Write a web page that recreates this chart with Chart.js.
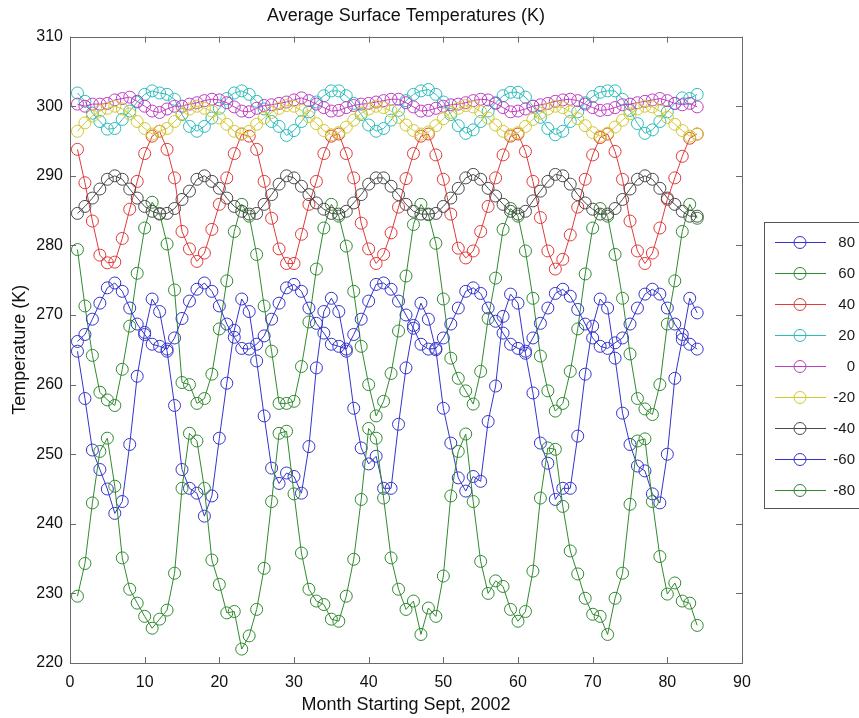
<!DOCTYPE html>
<html>
<head>
<meta charset="utf-8">
<title>Average Surface Temperatures</title>
<script src="https://cdn.jsdelivr.net/npm/chart.js@4.4.1/dist/chart.umd.min.js"></script>
<style>
  html, body { margin: 0; padding: 0; background: #fff; }
  #wrap { width: 859px; height: 718px; }
</style>
</head>
<body>
<div id="wrap"><canvas id="temps" width="859" height="718"></canvas></div>
<script>
// Monthly mean surface temperature (K) by latitude band, Sept 2002 onwards
const FONT = "'Liberation Sans', Arial, Helvetica, sans-serif";

const months = [
   1,  2,  3,  4,  5,  6,  7,  8,  9, 10, 11, 12,
  13, 14, 15, 16, 17, 18, 19, 20, 21, 22, 23, 24,
  25, 26, 27, 28, 29, 30, 31, 32, 33, 34, 35, 36,
  37, 38, 39, 40, 41, 42, 43, 44, 45, 46, 47, 48,
  49, 50, 51, 52, 53, 54, 55, 56, 57, 58, 59, 60,
  61, 62, 63, 64, 65, 66, 67, 68, 69, 70, 71, 72,
  73, 74, 75, 76, 77, 78, 79, 80, 81, 82, 83, 84
];

const latLabels = ["80", "60", "40", "20", "0", "-20", "-40", "-60", "-80"];
const latColors = ["#3434cc", "#2f8a2f", "#e03a3a", "#2cbcbc", "#c03cc0",
                   "#d2c832", "#4a4a4a", "#3434cc", "#2f8a2f"];

const lat80 = [
  264.8, 258.0, 250.6, 247.8, 245.0, 241.5, 243.2, 251.4, 261.2, 267.5, 272.3, 270.5,
  264.8, 257.0, 247.8, 245.1, 244.4, 241.1, 244.0, 252.3, 260.2, 267.8, 272.3, 270.5,
  263.4, 255.5, 248.0, 245.8, 247.3, 246.8, 244.4, 251.1, 262.4, 270.5, 272.4, 270.5,
  264.8, 256.6, 250.9, 248.6, 249.7, 245.1, 245.1, 254.3, 262.4, 268.5, 271.7, 269.4,
  265.0, 256.6, 251.6, 246.6, 244.7, 246.8, 246.1, 254.7, 259.8, 269.8, 273.0, 271.7,
  264.5, 258.8, 251.6, 248.7, 243.5, 245.1, 245.1, 252.6, 261.5, 268.4, 272.3, 271.0,
  263.8, 255.9, 251.4, 248.3, 247.6, 244.3, 243.0, 250.0, 260.9, 266.5, 272.4, 270.3
];
const lat60 = [
  279.4, 271.3, 264.2, 258.9, 257.8, 257.0, 262.2, 268.4, 276.0, 282.5, 286.2, 284.6,
  280.2, 273.6, 260.3, 260.0, 257.3, 258.0, 261.5, 268.0, 274.9, 282.0, 285.9, 284.2,
  278.7, 271.3, 264.8, 257.3, 257.3, 257.6, 262.6, 269.0, 276.6, 282.5, 285.9, 284.2,
  279.9, 273.4, 265.5, 260.0, 255.5, 257.6, 261.6, 267.7, 275.6, 283.0, 285.9, 284.4,
  280.3, 272.3, 263.8, 260.9, 259.1, 257.2, 261.9, 269.5, 275.3, 282.3, 285.3, 284.2,
  279.2, 272.4, 264.1, 259.1, 256.2, 257.3, 261.9, 268.0, 275.9, 282.5, 285.3, 284.2,
  278.7, 272.4, 264.4, 258.0, 256.5, 255.7, 260.0, 268.7, 274.9, 282.0, 285.9, 283.9
];
const lat40 = [
  293.8, 289.0, 283.5, 278.6, 277.5, 277.6, 281.0, 285.2, 289.2, 293.2, 295.7, 296.4,
  293.8, 289.7, 282.0, 279.5, 277.7, 278.9, 282.3, 285.9, 289.7, 293.2, 296.0, 295.7,
  293.8, 289.2, 283.9, 279.5, 277.4, 277.4, 281.6, 285.9, 289.2, 293.2, 295.7, 296.0,
  293.2, 289.7, 283.2, 279.5, 277.4, 278.7, 281.8, 285.5, 289.6, 293.2, 295.7, 296.0,
  293.0, 289.5, 284.5, 279.6, 278.2, 279.2, 282.0, 285.6, 289.7, 293.0, 295.7, 296.0,
  293.5, 289.2, 284.0, 279.2, 276.6, 278.0, 281.5, 285.5, 289.5, 293.0, 295.5, 296.0,
  293.5, 289.5, 283.5, 279.2, 277.4, 278.9, 282.5, 286.6, 289.7, 292.8, 295.4, 296.0
];
const lat20 = [
  301.9, 300.7, 299.0, 297.8, 296.7, 296.8, 298.1, 299.3, 300.6, 301.7, 302.2, 301.9,
  301.7, 301.0, 298.8, 297.1, 296.4, 297.1, 298.3, 299.7, 301.1, 301.9, 302.2, 301.7,
  300.7, 299.6, 297.8, 297.1, 295.8, 296.5, 297.8, 299.2, 300.6, 301.5, 302.2, 302.2,
  301.5, 300.4, 298.8, 297.3, 296.4, 296.8, 298.0, 299.4, 300.8, 301.7, 302.2, 302.4,
  301.7, 300.6, 298.8, 297.2, 296.1, 296.6, 297.8, 299.3, 300.5, 301.5, 302.0, 302.0,
  301.3, 300.0, 298.4, 296.8, 295.9, 296.4, 297.8, 299.2, 300.5, 301.4, 302.0, 302.2,
  302.2, 301.0, 299.4, 297.5, 296.1, 296.6, 297.8, 299.2, 300.4, 301.2, 301.1, 301.7
];
const lat0 = [
  300.3, 300.0, 300.3, 300.3, 300.4, 300.9, 301.1, 301.3, 300.7, 300.0, 299.3, 299.1,
  299.6, 300.0, 300.0, 300.3, 300.5, 300.8, 301.0, 300.9, 300.5, 299.9, 299.3, 299.2,
  299.7, 300.1, 300.2, 300.4, 300.6, 300.9, 301.2, 300.8, 300.3, 299.8, 299.3, 299.4,
  299.8, 300.1, 300.3, 300.4, 300.6, 300.8, 301.0, 301.0, 300.5, 299.9, 299.3, 299.4,
  299.7, 300.0, 300.2, 300.3, 300.5, 300.8, 301.0, 300.9, 300.4, 299.8, 299.2, 299.3,
  299.6, 300.0, 300.2, 300.4, 300.7, 300.9, 301.0, 300.8, 300.3, 299.8, 299.4, 299.5,
  299.8, 300.2, 300.3, 300.5, 300.7, 300.9, 301.1, 300.8, 300.4, 300.2, 300.4, 299.9
];
const latS20 = [
  296.4, 297.6, 298.6, 299.3, 299.7, 300.0, 299.6, 298.9, 297.8, 296.8, 296.0, 296.4,
  296.8, 297.8, 298.9, 299.6, 300.0, 299.7, 299.3, 298.3, 297.4, 296.4, 296.0, 296.4,
  297.4, 298.3, 299.1, 299.7, 300.1, 300.0, 299.4, 298.5, 297.5, 296.5, 295.9, 296.2,
  297.0, 298.0, 299.0, 299.6, 300.0, 299.8, 299.3, 298.4, 297.3, 296.5, 296.0, 296.3,
  297.2, 298.2, 299.1, 299.7, 300.1, 299.9, 299.2, 298.3, 297.3, 296.4, 295.9, 296.2,
  297.1, 298.1, 299.0, 299.6, 300.0, 299.8, 299.2, 298.2, 297.2, 296.2, 295.7, 296.1,
  297.0, 298.0, 298.9, 299.6, 300.0, 299.9, 299.3, 298.4, 297.4, 296.5, 295.7, 296.0
];
const latS40 = [
  284.6, 285.6, 286.8, 288.1, 289.5, 290.0, 289.5, 288.1, 286.8, 285.6, 284.9, 284.5,
  284.6, 285.3, 286.6, 287.8, 289.5, 290.0, 289.2, 288.2, 286.8, 285.6, 284.9, 284.5,
  284.6, 285.9, 287.3, 288.8, 290.0, 289.7, 288.5, 287.3, 286.1, 285.2, 284.6, 284.5,
  284.9, 286.1, 287.3, 288.8, 289.7, 289.7, 288.5, 287.3, 285.9, 284.9, 284.5, 284.5,
  284.6, 285.6, 286.8, 288.2, 289.7, 290.2, 289.5, 288.2, 287.1, 285.9, 284.9, 284.5,
  284.9, 286.4, 287.8, 289.2, 290.2, 290.0, 288.8, 287.3, 286.1, 285.2, 284.5, 284.5,
  285.3, 286.6, 288.1, 289.5, 290.0, 289.5, 288.2, 286.8, 285.9, 284.9, 284.2, 284.2
];
const latS60 = [
  266.2, 267.2, 269.4, 271.7, 273.9, 274.6, 273.4, 271.0, 268.7, 267.2, 265.8, 265.5,
  265.1, 266.7, 269.5, 272.0, 273.7, 274.6, 273.4, 271.3, 268.7, 266.8, 265.2, 265.1,
  265.8, 267.0, 269.4, 271.7, 273.9, 274.4, 273.4, 271.0, 268.8, 267.4, 265.8, 265.5,
  265.1, 267.2, 269.4, 272.0, 274.4, 274.6, 273.7, 272.0, 270.0, 268.1, 265.8, 265.1,
  265.2, 266.7, 268.7, 271.0, 273.4, 273.9, 273.1, 271.0, 269.1, 267.4, 265.8, 265.2,
  264.8, 266.7, 268.8, 271.0, 273.1, 273.7, 272.7, 270.8, 268.7, 266.7, 265.5, 265.2,
  266.0, 266.7, 268.7, 271.0, 273.0, 273.7, 273.0, 271.0, 268.7, 267.2, 265.8, 265.1
];
const latS80 = [
  229.6, 234.3, 243.0, 250.4, 252.3, 245.4, 235.1, 230.6, 228.6, 226.7, 225.0, 226.3,
  227.6, 232.9, 245.1, 253.0, 251.9, 245.1, 234.8, 231.3, 227.2, 227.4, 222.0, 223.9,
  227.7, 233.6, 243.2, 253.0, 253.3, 244.3, 235.8, 230.6, 228.9, 228.4, 226.3, 226.0,
  229.6, 234.9, 243.5, 253.7, 252.3, 243.7, 235.1, 230.6, 227.7, 228.9, 224.1, 227.9,
  226.7, 232.5, 244.0, 250.4, 252.9, 243.2, 234.6, 230.0, 231.8, 231.0, 227.7, 226.0,
  227.4, 233.2, 243.7, 250.9, 250.7, 242.5, 236.1, 232.8, 229.3, 227.0, 226.7, 224.1,
  229.3, 232.9, 242.8, 251.9, 252.2, 243.2, 235.3, 229.9, 231.5, 228.9, 228.6, 225.4
];

const xTicks = [0, 10, 20, 30, 40, 50, 60, 70, 80, 90];
const yTicks = [220, 230, 240, 250, 260, 270, 280, 290, 300, 310];

const seriesValues = [lat80, lat60, lat40, lat20, lat0, latS20, latS40, latS60, latS80];

/* ---------- boxed axes with inward ticks on all four sides ---------- */
const boxTicksPlugin = {
  id: "boxTicks",
  afterDatasetsDraw(chart) {
    const { ctx, chartArea: a, scales: { x, y } } = chart;
    const len = 6;
    ctx.save();
    ctx.strokeStyle = "#6a6a6a";
    ctx.lineWidth = 1;
    ctx.strokeRect(Math.round(a.left) + 0.5, Math.round(a.top) + 0.5,
                   Math.round(a.right - a.left), Math.round(a.bottom - a.top));
    ctx.beginPath();
    xTicks.forEach(v => {
      const px = Math.round(x.getPixelForValue(v)) + 0.5;
      ctx.moveTo(px, a.bottom); ctx.lineTo(px, a.bottom - len);
      ctx.moveTo(px, a.top);    ctx.lineTo(px, a.top + len);
    });
    yTicks.forEach(v => {
      const py = Math.round(y.getPixelForValue(v)) + 0.5;
      ctx.moveTo(a.left, py);  ctx.lineTo(a.left + len, py);
      ctx.moveTo(a.right, py); ctx.lineTo(a.right - len, py);
    });
    ctx.stroke();
    ctx.restore();
  }
};

/* ---------- line + open circle legend box at the right edge ---------- */
const latLegendPlugin = {
  id: "latLegend",
  afterDraw(chart, args, opts) {
    const { ctx } = chart;
    const { left, top, bottom, firstRow, rowGap } = opts;
    ctx.save();
    ctx.fillStyle = "#fff";
    ctx.fillRect(left, top, chart.width - left + 10, bottom - top);
    ctx.strokeStyle = "#555";
    ctx.lineWidth = 1;
    ctx.strokeRect(left + 0.5, top + 0.5, chart.width, bottom - top);
    ctx.font = "15px " + FONT;
    ctx.textAlign = "right";
    ctx.textBaseline = "middle";
    chart.data.datasets.forEach((ds, i) => {
      const yy = Math.round(top + firstRow + i * rowGap) + 0.5;
      ctx.strokeStyle = ds.borderColor;
      ctx.beginPath(); ctx.moveTo(left + 11, yy); ctx.lineTo(left + 62, yy); ctx.stroke();
      ctx.beginPath(); ctx.arc(left + 36, yy, 6, 0, Math.PI * 2); ctx.stroke();
      ctx.fillStyle = "#1a1a1a";
      ctx.fillText(ds.label, left + 91, yy);
    });
    ctx.restore();
  }
};

const datasets = seriesValues.map((vals, i) => ({
  label: latLabels[i],
  data: months.map((m, j) => ({ x: m, y: vals[j] })),
  borderColor: latColors[i],
  borderWidth: 1,
  pointRadius: 6,
  pointBorderWidth: 1,
  pointBorderColor: latColors[i],
  pointBackgroundColor: "rgba(0,0,0,0)",
  tension: 0,
  fill: false,
  order: seriesValues.length - i
}));

new Chart(document.getElementById("temps"), {
  type: "line",
  data: { datasets },
  options: {
    responsive: false,
    devicePixelRatio: 1,
    animation: false,
    layout: { padding: { left: 0, right: 117, top: 0, bottom: 0 } },
    plugins: {
      legend: { display: false },
      tooltip: { enabled: false },
      title: {
        display: true,
        fullSize: false,
        text: "Average Surface Temperatures (K)",
        color: "#111",
        font: { family: FONT, size: 18, weight: "normal" },
        padding: { top: 5, bottom: 10 }
      },
      latLegend: { left: 764, top: 222, bottom: 508, firstRow: 20, rowGap: 31 }
    },
    scales: {
      x: {
        type: "linear",
        min: 0, max: 90,
        afterFit: (s) => { s.height = 55; },
        afterBuildTicks: (s) => { s.ticks = xTicks.map(v => ({ value: v })); },
        grid: { display: false, drawTicks: false },
        border: { display: false },
        ticks: { color: "#111", font: { family: FONT, size: 16 }, padding: 10, maxRotation: 0 },
        title: {
          display: true,
          text: "Month Starting Sept, 2002",
          color: "#111",
          font: { family: FONT, size: 18 },
          padding: { top: 0, bottom: 2 }
        }
      },
      y: {
        type: "linear",
        min: 220, max: 310,
        afterFit: (s) => { s.width = 70; },
        afterBuildTicks: (s) => { s.ticks = yTicks.map(v => ({ value: v })); },
        grid: { display: false, drawTicks: false },
        border: { display: false },
        ticks: { color: "#111", font: { family: FONT, size: 16 }, padding: 7 },
        title: {
          display: true,
          text: "Temperature (K)",
          color: "#111",
          font: { family: FONT, size: 18 },
          padding: { top: 9, bottom: 0 }
        }
      }
    }
  },
  plugins: [boxTicksPlugin, latLegendPlugin]
});
</script>
</body>
</html>
